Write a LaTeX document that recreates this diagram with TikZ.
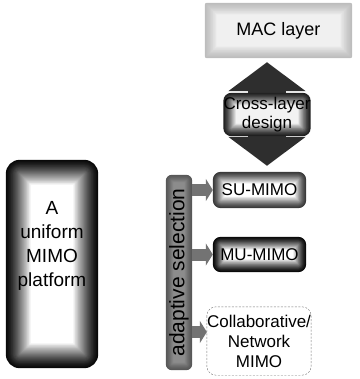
\documentclass[tikz,border=0pt]{standalone}
\usepackage{fontspec}
\setmainfont{Liberation Sans}
\usetikzlibrary{arrows.meta,backgrounds}
% #1 node, #2 outer pct, #3 inner pct, #4 steps, #5 step size (pt), #6 corner radius (pt)
\newcommand{\mkglow}[6]{%
  \foreach \k in {0,...,#4}{%
    \pgfmathtruncatemacro{\pc}{#3+(#2-#3)*(1-(\k/#4)^1.3)}%
    \pgfmathsetmacro{\rr}{max(#6-\k*#5,0.5)}%
    \fill[black!\pc,rounded corners=\rr pt]
      ([shift={(\k*#5pt,-\k*#5pt)}]#1.north west) rectangle
      ([shift={(-\k*#5pt,\k*#5pt)}]#1.south east);
  }}
\tikzset{
  lbl/.style={inner sep=0pt, align=center, text=black,
    font=\fontsize{17}{19}\selectfont},
  smallarrow/.style={draw=black!55, line width=12pt,
    -{Triangle[width=22pt,length=7pt]}},
  bigarrow/.style={draw=black!82, line width=38pt,
    {Triangle[width=76pt,length=29pt]}-{Triangle[width=76pt,length=29pt]}}
}
\begin{document}
\begin{tikzpicture}[x=1pt,y=-1pt]
\useasboundingbox (0,0) rectangle (359,379);
% text nodes (frames drawn behind on background layer)
\node[lbl, minimum width=147pt, minimum height=55pt, font=\fontsize{18}{20}\selectfont] (mac) at (278.5,30.5) {MAC layer};
\node[lbl, minimum width=82pt, minimum height=43pt] (cross) at (267,114.5) {Cross-layer\\design};
\node[lbl, minimum width=93pt, minimum height=36pt] (su) at (259.5,190) {SU-MIMO};
\node[lbl, minimum width=93pt, minimum height=35pt] (mu) at (259.5,254.5) {MU-MIMO};
\node[lbl, minimum width=98pt, minimum height=68pt, font=\fontsize{17}{20}\selectfont] (col) at (259,341) {Collaborative/\\Network\\MIMO};
\node[lbl, minimum width=26pt, minimum height=195pt] (bar) at (179,272.5) {};
\node[lbl, rotate=90, font=\fontsize{21}{23}\selectfont] (bartext) at (bar.center) {adaptive selection};
\node[lbl, minimum width=92pt, minimum height=208pt] (left) at (52,264) {};
\node[lbl, font=\fontsize{19}{24}\selectfont] (lefttext) at (52,246) {A\\uniform\\MIMO\\platform};
\begin{pgfonlayer}{background}
  \mkglow{mac}{26}{6}{16}{0.75}{2}
  \mkglow{su}{78}{0}{18}{0.65}{8}
  \mkglow{mu}{97}{0}{20}{0.65}{8}
  \mkglow{left}{97}{0}{28}{0.9}{14}
  \mkglow{bar}{66}{45}{10}{0.75}{6}
  \fill[white] (col.north west) rectangle (col.south east);
  \draw[black!55, dash pattern=on 2pt off 1.5pt, rounded corners=9pt]
    (col.north west) rectangle (col.south east);
  \draw[bigarrow] ([yshift=-4pt]cross |- mac.south) -- ([yshift=6pt]cross |- su.north);
  \mkglow{cross}{88}{5}{18}{0.7}{8}
  \draw[smallarrow] (bar.east |- su.west) -- (su.west);
  \draw[smallarrow] (bar.east |- mu.west) -- (mu.west);
  \draw[smallarrow] ([yshift=9pt]bar.east |- col.west) -- ([yshift=9pt]col.west);
\end{pgfonlayer}
\end{tikzpicture}
\end{document}
